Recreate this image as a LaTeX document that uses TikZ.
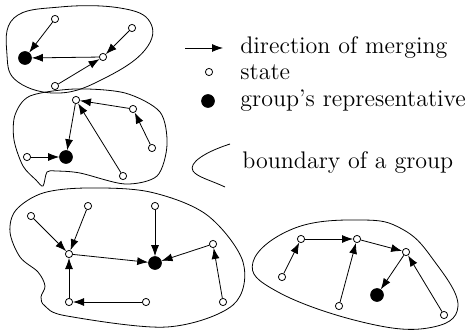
\documentclass[tikz,border=0pt]{standalone}
\usepackage{tikz}
\usetikzlibrary{arrows.meta}
\tikzset{
  state/.style      = {draw, circle, fill=white, minimum size=3.6pt, inner sep=0pt, thin},
  rep/.style        = {draw, circle, fill=black, minimum size=6.4pt, inner sep=0pt},
  merge/.style      = {-{Latex[length=5.5pt,width=4pt]}, thin},
  bound/.style      = {thin},
  lbl/.style        = {anchor=west, inner sep=0pt, font=\fontsize{12}{14}\selectfont},
}
\begin{document}
\begin{tikzpicture}[x=0.5pt,y=-0.5pt]
  \useasboundingbox (0,0) rectangle (469,331);
  % group 1
  \node[rep] (r1) at (25,58) {};
  \node[state] (a1) at (55,19) {};
  \node[state] (b1) at (132,28) {};
  \node[state] (c1) at (103,57) {};
  \node[state] (d1) at (55,86) {};
  \draw[merge] (a1) -- (r1);
  \draw[merge] (b1) -- (c1);
  \draw[merge] (d1) -- (c1);
  \draw[merge] (c1) -- (r1);
  \draw[bound] plot[smooth cycle, tension=0.7] coordinates
    {(14,18) (60,7) (120,8) (150,22) (145,50) (105,78) (60,93) (18,82) (7,55)};
  % group 2
  \node[rep] (r2) at (66,157) {};
  \node[state] (e2) at (76,100) {};
  \node[state] (f2) at (133,109) {};
  \node[state] (g2) at (152,148) {};
  \node[state] (h2) at (27,157) {};
  \node[state] (i2) at (123,176) {};
  \draw[merge] (e2) -- (r2);
  \draw[merge] (f2) -- (e2);
  \draw[merge] (g2) -- (f2);
  \draw[merge] (h2) -- (r2);
  \draw[merge] (i2) -- (e2);
  \draw[bound] plot[smooth cycle, tension=0.5] coordinates
    {(30,96) (75,89) (125,93) (160,112) (167,145) (157,176) (125,184)
     (80,173) (56,171) (47,172) (43,186) (36,180) (23,166) (14,140) (15,115)};
  % group 3
  \node[rep] (r3) at (155,263) {};
  \node[state] (j3) at (31,216) {};
  \node[state] (k3) at (88,206) {};
  \node[state] (l3) at (69,254) {};
  \node[state] (m3) at (155,206) {};
  \node[state] (n3) at (213,244) {};
  \node[state] (o3) at (223,302) {};
  \node[state] (p3) at (69,302) {};
  \node[state] (q3) at (146,302) {};
  \draw[merge] (j3) -- (l3);
  \draw[merge] (k3) -- (l3);
  \draw[merge] (l3) -- (r3);
  \draw[merge] (m3) -- (r3);
  \draw[merge] (n3) -- (r3);
  \draw[merge] (o3) -- (n3);
  \draw[merge] (p3) -- (l3);
  \draw[merge] (q3) -- (p3);
  \draw[bound] plot[smooth cycle, tension=0.55] coordinates
    {(43,193) (87,188) (150,192) (207,215) (243,262) (233,305) (167,327)
     (67,316) (45,306) (41,297) (45,286) (38,272) (20,257) (10,232) (16,210)};
  % group 4
  \node[rep] (r4) at (377,295) {};
  \node[state] (s4) at (301,239) {};
  \node[state] (t4) at (357,239) {};
  \node[state] (u4) at (406,252) {};
  \node[state] (v4) at (282,277) {};
  \node[state] (w4) at (339,306) {};
  \node[state] (x4) at (444,315) {};
  \draw[merge] (v4) -- (s4);
  \draw[merge] (s4) -- (t4);
  \draw[merge] (w4) -- (t4);
  \draw[merge] (t4) -- (u4);
  \draw[merge] (u4) -- (r4);
  \draw[merge] (x4) -- (u4);
  \draw[bound] plot[smooth cycle, tension=0.7] coordinates
    {(362,220) (402,229) (432,258) (458,306) (428,328) (362,322) (278,292)
     (253,262) (295,228)};
  % legend
  \coordinate (m0) at (185,48);
  \coordinate (m1) at (223,48);
  \draw[merge] (m0) -- (m1);
  \node[lbl] (tm) at (240,48) {direction of merging};
  \node[state] (ks) at (209,72) {};
  \node[lbl] (ts) at (240,72) {state};
  \node[rep] (kr) at (208,101) {};
  \node[lbl] (tr) at (240,101) {group's representative};
  \draw[bound] (230,144) .. controls (205,152) and (188,163) .. (193,171)
    .. controls (197,177) and (210,180) .. (225,187);
  \node[lbl] (tb) at (242,163) {boundary of a group};
\end{tikzpicture}
\end{document}
